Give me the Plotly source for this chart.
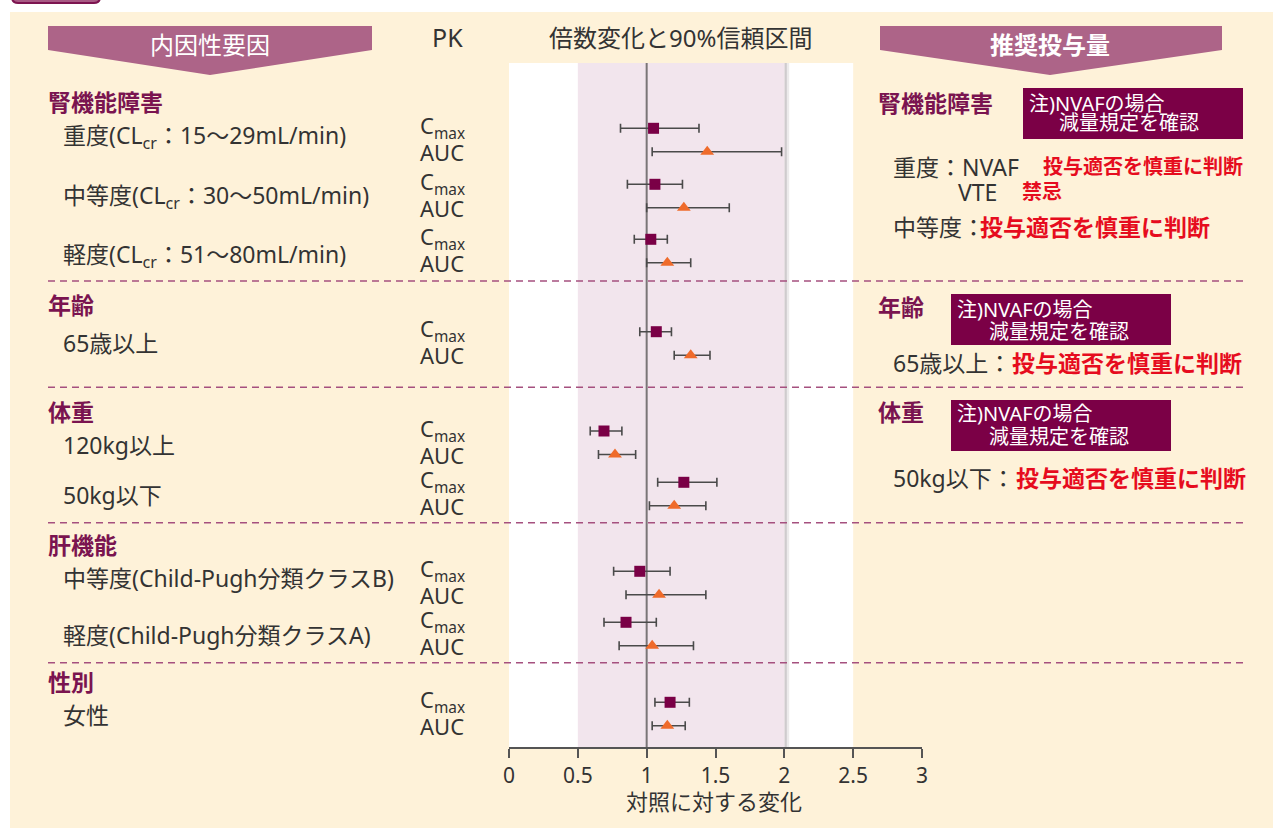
import plotly.graph_objects as go

# ---------------------------------------------------------------- data
groups = ["腎機能障害", "年齢", "体重", "肝機能", "性別"]
group_of_subgroup = [0, 0, 0, 1, 2, 2, 3, 3, 4]
subgroups = [
    "重度(CL<sub>cr</sub>：15～29mL/min)",
    "中等度(CL<sub>cr</sub>：30～50mL/min)",
    "軽度(CL<sub>cr</sub>：51～80mL/min)",
    "65歳以上",
    "120kg以上",
    "50kg以下",
    "中等度(Child-Pugh分類クラスB)",
    "軽度(Child-Pugh分類クラスA)",
    "女性",
]
pk_labels = ["C<sub>max</sub>", "AUC"]

cmax_ratio = [1.05, 1.06, 1.03, 1.07, 0.69, 1.27, 0.95, 0.85, 1.17]
cmax_low = [0.81, 0.86, 0.91, 0.95, 0.59, 1.08, 0.76, 0.69, 1.06]
cmax_high = [1.38, 1.26, 1.15, 1.18, 0.82, 1.51, 1.17, 1.07, 1.31]

auc_ratio = [1.44, 1.27, 1.15, 1.32, 0.77, 1.20, 1.09, 1.04, 1.15]
auc_low = [1.04, 1.00, 1.00, 1.20, 0.65, 1.02, 0.85, 0.80, 1.04]
auc_high = [1.98, 1.60, 1.32, 1.46, 0.92, 1.43, 1.43, 1.34, 1.28]

x_ticks = [0, 0.5, 1, 1.5, 2, 2.5, 3]
x_tick_labels = ["0", "0.5", "1", "1.5", "2", "2.5", "3"]

# ---------------------------------------------------------------- layout
W, H = 1273, 828
ML, MR, MT, MB = 509, 351, 63, 81
PW, PH = W - ML - MR, H - MT - MB

FONT = "Noto Sans, Noto Sans CJK JP"
CREAM = "#fef2d9"
BANNER = "#ad6488"
MAGENTA = "#7a1450"
BOX = "#7b0046"
DARK = "#333333"
RED = "#e60c1e"
SQ_COLOR = "#7a0046"
TRI_COLOR = "#ef6b2b"

# vertical slot of each subgroup's Cmax row (distance below the top of the plot area)
pair_slot = [65.3, 121.3, 176.3, 268.7, 368, 419.3, 508.3, 559.3, 639.3]
pair_gap = 23.5
cmax_y = pair_slot
auc_y = [s + pair_gap for s in pair_slot]


def px(x):
    return (x - ML) / PW


def py(y):
    return (H - MB - y) / PH


fig = go.Figure()

fig.add_trace(go.Scatter(
    x=cmax_ratio, y=cmax_y, mode="markers",
    marker=dict(symbol="square", size=11, color=SQ_COLOR),
    error_x=dict(type="data", symmetric=False,
                 array=[h - r for h, r in zip(cmax_high, cmax_ratio)],
                 arrayminus=[r - l for r, l in zip(cmax_ratio, cmax_low)],
                 color="#4a4a4a", thickness=1.6, width=4.5),
    showlegend=False, hoverinfo="skip",
))
fig.add_trace(go.Scatter(
    x=auc_ratio, y=auc_y, mode="markers",
    marker=dict(symbol="triangle-up", size=12, color=TRI_COLOR),
    error_x=dict(type="data", symmetric=False,
                 array=[h - r for h, r in zip(auc_high, auc_ratio)],
                 arrayminus=[r - l for r, l in zip(auc_ratio, auc_low)],
                 color="#4a4a4a", thickness=1.6, width=4.5),
    showlegend=False, hoverinfo="skip",
))

shapes = []
# cream panel and the tab above it
shapes.append(dict(type="rect", xref="paper", yref="paper", x0=px(10), x1=px(1290),
                   y0=py(12), y1=py(840), fillcolor=CREAM, line_width=0, layer="below"))
shapes.append(dict(type="path", xref="paper", yref="paper",
                   path=f"M {px(12)},{py(-12)} L {px(12)},{py(-3)} Q {px(12)},{py(3)} {px(18)},{py(3)} "
                        f"L {px(94)},{py(3)} Q {px(100)},{py(3)} {px(100)},{py(-3)} L {px(100)},{py(-12)} Z",
                   fillcolor="#a85a84", line=dict(color="#7d1450", width=2), layer="below"))
# white plotting field, highlighted band, its shadow and the line of no effect
shapes.append(dict(type="rect", xref="x", yref="paper", x0=0, x1=2.5, y0=0, y1=1,
                   fillcolor="white", line_width=0, layer="below"))
shapes.append(dict(type="rect", xref="x", yref="paper", x0=2.0, x1=2.035, y0=0, y1=1,
                   fillcolor="rgba(150,140,145,0.18)", line_width=0, layer="below"))
shapes.append(dict(type="rect", xref="x", yref="paper", x0=2.0, x1=2.018, y0=0, y1=1,
                   fillcolor="rgba(120,110,115,0.25)", line_width=0, layer="below"))
shapes.append(dict(type="rect", xref="x", yref="paper", x0=0.5, x1=2.0, y0=0, y1=1,
                   fillcolor="#f2e5ed", line_width=0, layer="below"))
shapes.append(dict(type="line", xref="x", yref="paper", x0=1, x1=1, y0=0, y1=1,
                   line=dict(color="#7a7577", width=2), layer="below"))


# banners
def banner(x0, x1, xm):
    return dict(type="path", xref="paper", yref="paper",
                path=f"M {px(x0)},{py(26)} L {px(x1)},{py(26)} L {px(x1)},{py(50)} "
                     f"L {px(xm)},{py(75)} L {px(x0)},{py(50)} Z",
                fillcolor=BANNER, line_width=0, layer="above")


shapes.append(banner(48, 372, 210))
shapes.append(banner(880, 1222, 1050))

# group separators
for ysep in [281, 387.3, 522.7, 662.7]:
    shapes.append(dict(type="line", xref="paper", yref="paper", x0=px(48), x1=px(1245),
                       y0=py(ysep), y1=py(ysep),
                       line=dict(color="#a5507f", width=1.5, dash="7px,5px"), layer="above"))

# note boxes
note_boxes = [(1023, 1243, 88, 139), (951, 1171, 294, 345), (951, 1171, 400, 451)]
for bx0, bx1, by0, by1 in note_boxes:
    shapes.append(dict(type="rect", xref="paper", yref="paper", x0=px(bx0), x1=px(bx1),
                       y0=py(by1), y1=py(by0), fillcolor=BOX, line_width=0, layer="above"))

ann = []


def text(x, y, s, size, color=DARK, anchor="left", bold=False, yref="paper"):
    ann.append(dict(x=px(x), y=py(y) if yref == "paper" else y, xref="paper", yref=yref,
                    text=f"<b>{s}</b>" if bold else s, showarrow=False,
                    xanchor=anchor, yanchor="middle",
                    font=dict(family=FONT, size=size, color=color)))


# column headings
text(210, 45, "内因性要因", 24, "white", "center")
text(447, 37, "PK", 25, DARK, "center")
text(680, 37, "倍数変化と90%信頼区間", 24, DARK, "center")
text(1050, 45, "推奨投与量", 24, "white", "center", bold=True)

# left-hand labels
group_label_y = [102, 305, 411.5, 545, 681.5]
for g, gy in zip(groups, group_label_y):
    text(46, gy, g, 23, MAGENTA, bold=True)

sub_label_y = [136.7, 196.7, 255, 343, 445, 495, 578.3, 635, 715]
for s, sy in zip(subgroups, sub_label_y):
    text(61, sy, s, 23, DARK)

for cy, ay in zip(cmax_y, auc_y):
    ann.append(dict(x=px(418), y=cy - 1.5, xref="paper", yref="y", text=pk_labels[0],
                    showarrow=False, xanchor="left", yanchor="middle",
                    font=dict(family=FONT, size=22, color=DARK)))
    ann.append(dict(x=px(418), y=ay, xref="paper", yref="y", text=pk_labels[1],
                    showarrow=False, xanchor="left", yanchor="middle",
                    font=dict(family=FONT, size=22, color=DARK)))

# recommendation column
note_line1 = "注)NVAFの場合"
note_line2 = "減量規定を確認"
caution = "投与適否を慎重に判断"

text(876, 103, "腎機能障害", 23, MAGENTA, bold=True)
text(1027, 103, note_line1, 20, "white")
text(1057, 122, note_line2, 20, "white")
text(891, 166.5, "重度：NVAF", 23, DARK)
text(1041, 166.5, caution, 20, RED, bold=True)
text(956, 191.5, "VTE", 23, DARK)
text(1020, 191.5, "禁忌", 20, RED, bold=True)
text(891, 226.5, "中等度：", 23, DARK)
text(978, 226.5, caution, 23, RED, bold=True)

text(876, 307, "年齢", 23, MAGENTA, bold=True)
text(955, 309, note_line1, 20, "white")
text(987, 331.5, note_line2, 20, "white")
text(891, 363, "65歳以上：", 23, DARK)
text(1010, 363, caution, 23, RED, bold=True)

text(876, 412, "体重", 23, MAGENTA, bold=True)
text(955, 413.5, note_line1, 20, "white")
text(987, 436.5, note_line2, 20, "white")
text(891, 478.5, "50kg以下：", 23, DARK)
text(1014, 478.5, caution, 23, RED, bold=True)

# x-axis title
text(714, 801, "対照に対する変化", 22, DARK, "center")

fig.update_layout(
    width=W, height=H,
    margin=dict(l=ML, r=MR, t=MT, b=MB, pad=0),
    paper_bgcolor="white", plot_bgcolor="rgba(0,0,0,0)",
    shapes=shapes, annotations=ann,
    xaxis=dict(range=[0, 3], tickvals=x_ticks, ticktext=x_tick_labels,
               showgrid=False, zeroline=False, showline=True, linecolor="#555555",
               linewidth=1.5, ticks="outside", ticklen=9, tickwidth=1.5, tickcolor="#555555",
               tickfont=dict(family=FONT, size=21, color=DARK)),
    yaxis=dict(range=[PH, 0], visible=False, fixedrange=True),
    font=dict(family=FONT),
)

fig.write_html("out.html")
